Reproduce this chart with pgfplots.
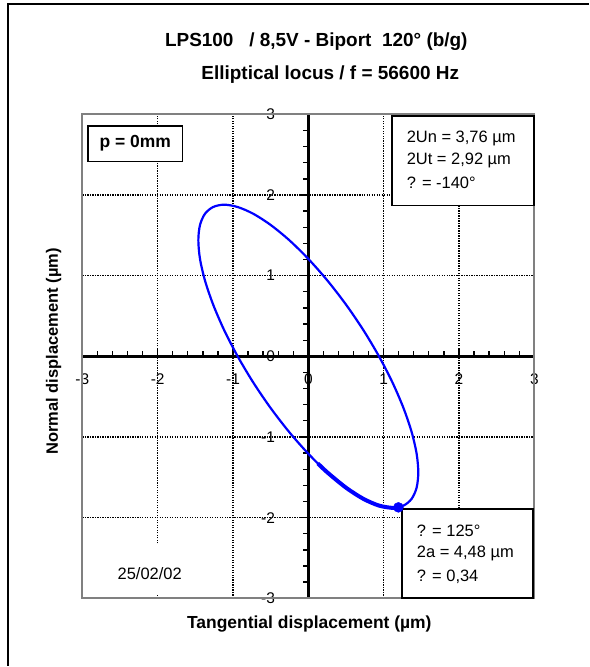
\documentclass[border=0pt]{standalone}
\usepackage{fontspec}
\setmainfont{Liberation Sans}
\usepackage{pgfplots}
\pgfplotsset{compat=1.18}
\definecolor{locus}{RGB}{0,0,255}
\definecolor{plotframe}{RGB}{128,128,128}

\begin{document}
\begin{tikzpicture}
\begin{axis}[
  width=453pt, height=485pt, scale only axis,
  xmin=-3, xmax=3, ymin=-3, ymax=3,
  axis lines=middle,
  axis line style={-, line width=2.5pt, black},
  xtick={-3,...,3}, ytick={-3,...,3},
  minor tick num=4,
  tick align=inside,
  major tick length=7pt, minor tick length=5pt,
  tick style={black, line width=1.3pt},
  every major y tick/.append style={xshift=-7pt},
  every minor y tick/.append style={xshift=-5pt},
  hide obscured x ticks=false, hide obscured y ticks=false,
  grid=major,
  major grid style={black, line width=1.3pt, dash pattern=on 1.3pt off 1.2pt},
  clip=false,
  /pgf/number format/assume math mode=true,
  tick label style={font=\fontsize{15.5}{18}\selectfont},
  xticklabel style={anchor=north, yshift=-14pt},
  yticklabel style={anchor=east, xshift=-30pt},
]
% picture size and outer frame
\path (axis cs:-4.093,4.418) rectangle (axis cs:3.722,-3.837);
\draw[line width=2.5pt] (axis cs:-3.987,-3.837) -- (axis cs:-3.987,4.369) -- (axis cs:3.722,4.369);
\draw[plotframe, line width=2pt] (axis cs:-3,-3) rectangle (axis cs:3,3);

% elliptical locus
\addplot[locus, line width=2.2pt, smooth, mark=none] coordinates {
  (1.118,-1.880) (1.264,-1.851) (1.372,-1.767) (1.438,-1.628)
  (1.460,-1.440) (1.438,-1.208) (1.372,-0.940) (1.264,-0.643)
  (1.118,-0.326) (0.938,0.000) (0.730,0.326) (0.499,0.643)
  (0.253,0.940) (0.000,1.208) (-0.253,1.440) (-0.499,1.628)
  (-0.730,1.767) (-0.938,1.851) (-1.118,1.880) (-1.264,1.851)
  (-1.372,1.767) (-1.438,1.628) (-1.460,1.440) (-1.438,1.208)
  (-1.372,0.940) (-1.264,0.643) (-1.118,0.326) (-0.938,0.000)
  (-0.730,-0.326) (-0.499,-0.643) (-0.253,-0.940) (0.000,-1.208)
  (0.253,-1.440) (0.499,-1.628) (0.730,-1.767) (0.938,-1.851)
  (1.118,-1.880)
};
\addplot[locus, line width=4pt, smooth, mark=none] coordinates {
  (0.127,-1.329) (0.253,-1.440) (0.499,-1.628) (0.730,-1.767)
  (0.938,-1.851) (1.118,-1.880) (1.196,-1.873)
};
\addplot[locus, only marks, mark=*, mark size=5pt] coordinates {(1.196,-1.873)};

% boxes
\filldraw[fill=white, draw=black, line width=1.6pt] (axis cs:-2.927,2.859) rectangle (axis cs:-1.669,2.413);
\node[font=\fontsize{17.5}{20}\selectfont\bfseries] at (axis cs:-2.298,2.636) {p = 0mm};

\filldraw[fill=white, draw=black, line width=1.6pt] (axis cs:1.113,2.983) rectangle (axis cs:2.993,1.869);
\node[anchor=west, font=\fontsize{16.5}{19}\selectfont] at (axis cs:1.260,2.698) {2Un = 3,76 µm};
\node[anchor=west, font=\fontsize{16.5}{19}\selectfont] at (axis cs:1.260,2.426) {2Ut = 2,92 µm};
\node[anchor=west, font=\fontsize{16.5}{19}\selectfont] at (axis cs:1.260,2.153) {? = -140°};

\filldraw[fill=white, draw=black, line width=1.6pt] (axis cs:1.245,-1.894) rectangle (axis cs:2.980,-2.995);
\node[anchor=west, font=\fontsize{16.5}{19}\selectfont] at (axis cs:1.395,-2.166) {? = 125°};
\node[anchor=west, font=\fontsize{16.5}{19}\selectfont] at (axis cs:1.395,-2.450) {2a = 4,48 µm};
\node[anchor=west, font=\fontsize{16.5}{19}\selectfont] at (axis cs:1.395,-2.735) {? = 0,34};

\fill[white] (axis cs:-2.768,-2.327) rectangle (axis cs:-1.444,-2.960);
\node[font=\fontsize{16.5}{19}\selectfont] at (axis cs:-2.106,-2.698) {25/02/02};

% titles and axis labels
\node[anchor=base, font=\fontsize{19}{22}\selectfont\bfseries] at (axis cs:0.106,3.837) {LPS100 \ \ / 8,5V - Biport \ 120° (b/g)};
\node[anchor=base, font=\fontsize{19}{22}\selectfont\bfseries] at (axis cs:0.291,3.428) {Elliptical locus / f = 56600 Hz};
\node[anchor=base, font=\fontsize{17.5}{20}\selectfont\bfseries] at (axis cs:0.013,-3.379) {Tangential displacement (µm)};
\node[anchor=base, rotate=90, font=\fontsize{16.5}{19}\selectfont\bfseries] at (axis cs:-3.325,0.062) {Normal displacement (µm)};
\end{axis}
\end{tikzpicture}
\end{document}
